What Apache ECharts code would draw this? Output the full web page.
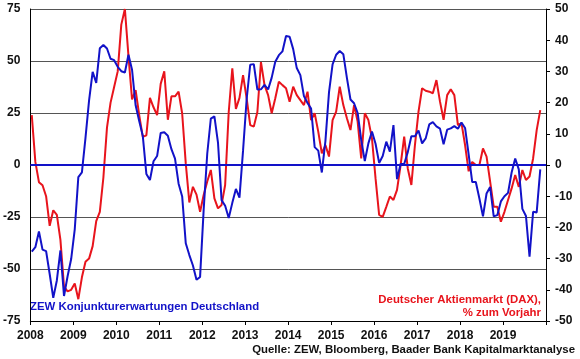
<!DOCTYPE html>
<html>
<head>
<meta charset="utf-8">
<script src="https://cdn.jsdelivr.net/npm/echarts@6/dist/echarts.min.js"></script>
<style>
  html, body { margin: 0; padding: 0; background: #fff; }
  #chart { width: 580px; height: 359px; }
</style>
</head>
<body>
<div id="chart"></div>
<script>
// Jahre der x-Achse
var years = ['2008', '2009', '2010', '2011', '2012', '2013', '2014', '2015', '2016', '2017', '2018', '2019']

// ZEW Konjunkturerwartungen, monatlich ab Jan 2008 (linke Achse)
var zew = [
  -41.6, -39.5, -32.0, -40.7, -41.4, -52.4, -63.9, -55.5, -41.1, -63.0, -53.5, -45.2,
  -31.0, -5.8, -3.5, 13.0, 31.1, 44.8, 39.5, 56.1, 57.7, 56.0, 51.1, 50.4,
  47.2, 45.1, 44.5, 53.0, 45.8, 28.7, 21.2, 14.0, -4.3, -7.2, 1.8, 4.3,
  15.4, 15.7, 14.1, 7.6, 3.1, -9.0, -15.1, -37.6, -43.3, -48.3, -55.2, -53.8,
  -21.6, 5.4, 22.3, 23.4, 10.8, -16.9, -19.6, -25.5, -18.2, -11.5, -15.7, 6.9,
  31.5, 48.2, 48.5, 36.3, 36.4, 38.5, 36.3, 42.0, 49.6, 52.8, 54.6, 62.0,
  61.7, 55.7, 46.6, 43.2, 33.1, 29.8, 27.1, 8.6, 6.9, -3.6, 11.5, 34.9,
  48.4, 53.0, 54.8, 53.3, 41.9, 31.5, 29.7, 25.0, 12.1, 1.9, 10.4, 16.1,
  10.2, 1.0, 4.3, 11.2, 6.4, 19.2, -6.8, 0.5, 0.5, 6.2, 13.8, 13.8,
  16.6, 10.4, 12.8, 19.5, 20.6, 18.6, 17.5, 10.0, 17.0, 17.6, 18.7, 17.4,
  20.4, 17.8, 5.1, -8.2, -8.2, -16.1, -24.7, -13.7, -10.6, -24.7, -24.1, -17.5,
  -15.0, -13.4, -3.6, 3.1, -2.1, -21.1, -24.5, -44.1, -22.5, -22.8, -2.1
]

// DAX, % zum Vorjahr, monatlich ab Jan 2008 (rechte Achse)
var dax = [
  16, 1, -5.5, -6.5, -10, -19.5, -14.5, -16, -24, -39,
  -40.5, -40, -38, -43, -36, -31, -30, -26, -18, -15,
  -4, 12, 20, 25, 30, 45, 50, 35, 21, 24,
  16, 9, 9.5, 21.5, 18.5, 16, 26, 30, 14.5, 22,
  22, 23.5, 16.5, 0.5, -12, -7, -9.5, -15, -9.6, -5.3,
  -1.6, -10.7, -13.9, -12.8, -6.4, 17, 31, 18, 21.5, 28.8,
  21.4, 12.8, 12.3, 17, 33, 25.6, 22.4, 16.6, 21.4, 26.7,
  25.6, 24.6, 20.3, 25.1, 22.4, 20.8, 19.2, 23.5, 14.4, 16.6,
  10.7, 3.7, 6.4, 2.7, 14.4, 17.1, 25.1, 19.2, 15, 11.2,
  19.2, 13.9, 2.1, 16.6, 14.4, 8.5, -4.3, -16, -16.6, -13.4,
  -10.1, -11.2, -8, 0, 9.1, -1.1, -6.4, 6.4, 17.1, 24.6,
  23.8, 23.5, 23, 27.2, 20.3, 14.5, 22.4, 24.3, 22.4, 12.8,
  13.4, 6.4, -2, 1, 0, 0, 5.3, 2.7, -5.3, -13.4,
  -13.4, -18.2, -15, -11.2, -7.5, -3.2, -7, -1.6, -4.8, -3.7,
  2.1, 11.2, 17.6
]

var blue = '#1212c8'
var red = '#e8141c'
var font = 'Liberation Sans, Arial, sans-serif'
var noteFont = 'bold 11.4px ' + font

// Monatsindex -> x-Wert (leicht zur Monatsmitte versetzt)
function toPairs (arr) {
  var out = []
  for (var i = 0; i < arr.length; i++) {
    out.push([i + 0.4, arr[i]])
  }
  return out
}

var myChart = echarts.init(document.getElementById('chart'), null, { renderer: 'canvas' })
myChart.setOption({
  animation: false,
  backgroundColor: '#fff',
  grid: { left: 27, right: 34, top: 9, bottom: 38 },
  xAxis: {
    type: 'value',
    min: 0,
    max: years.length * 12,
    interval: 12,
    axisLine: { onZero: false, lineStyle: { color: '#000', width: 1 } },
    axisTick: { show: true, length: 4, lineStyle: { color: '#000' } },
    splitLine: { show: false },
    axisLabel: {
      color: '#111',
      fontFamily: font,
      fontWeight: 'bold',
      fontSize: 12,
      margin: 9,
      formatter: function (v) {
        var k = Math.round(v / 12)
        return years[k] || ''
      }
    }
  },
  yAxis: [
    {
      type: 'value',
      min: -75,
      max: 75,
      interval: 25,
      axisLine: { show: true, lineStyle: { color: '#000' } },
      axisTick: { show: false },
      splitLine: { show: true, lineStyle: { color: '#555', width: 1 } },
      axisLabel: { color: '#111', fontFamily: font, fontWeight: 'bold', fontSize: 12, margin: 10 }
    },
    {
      type: 'value',
      min: -50,
      max: 50,
      interval: 10,
      position: 'right',
      axisLine: { show: true, lineStyle: { color: '#000' } },
      axisTick: { show: true, length: 4, lineStyle: { color: '#000' } },
      splitLine: { show: false },
      axisLabel: { color: '#111', fontFamily: font, fontWeight: 'bold', fontSize: 12, margin: 9 }
    }
  ],
  series: [
    {
      name: 'DAX',
      type: 'line',
      yAxisIndex: 1,
      data: toPairs(dax),
      showSymbol: false,
      lineStyle: { color: red, width: 2 },
      itemStyle: { color: red }
    },
    {
      name: 'ZEW',
      type: 'line',
      yAxisIndex: 0,
      data: toPairs(zew),
      showSymbol: false,
      lineStyle: { color: blue, width: 2 },
      itemStyle: { color: blue },
      markLine: {
        silent: true,
        symbol: 'none',
        label: { show: false },
        lineStyle: { color: blue, width: 2, type: 'solid' },
        data: [{ yAxis: 0 }]
      }
    }
  ],
  graphic: [
    {
      type: 'text',
      left: 30,
      top: 301,
      style: { text: 'ZEW Konjunkturerwartungen Deutschland', fill: blue, font: noteFont }
    },
    {
      type: 'text',
      right: 39,
      top: 294,
      style: { text: 'Deutscher Aktienmarkt (DAX),', fill: red, font: noteFont }
    },
    {
      type: 'text',
      right: 39,
      top: 307,
      style: { text: '% zum Vorjahr', fill: red, font: noteFont }
    },
    {
      type: 'text',
      right: 5,
      top: 344,
      style: { text: 'Quelle: ZEW, Bloomberg, Baader Bank Kapitalmarktanalyse', fill: '#111', font: noteFont }
    }
  ]
})
</script>
</body>
</html>
